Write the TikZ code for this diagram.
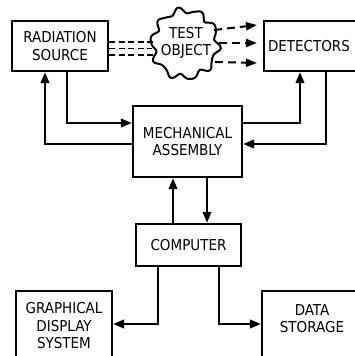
\documentclass[tikz,border=0pt]{standalone}
\usepackage{fontspec}
\setmainfont{DejaVu Sans Condensed}
\usetikzlibrary{arrows.meta}
\begin{document}
\begin{tikzpicture}[x=1pt,y=-1pt,
  lbl/.style={font=\fontsize{15}{17.5}\selectfont,align=center},
  box/.style={lbl,draw=black,line width=2.3pt,fill=white,inner sep=0pt},
  conn/.style={line width=2.3pt,-{Triangle[length=11pt,width=8.5pt]}},
  ray/.style={line width=1.8pt,dash pattern=on 6pt off 3.5pt},
  rayarrow/.style={line width=2pt,dash pattern=on 8pt off 5pt,-{Triangle[length=11pt,width=8pt]}}]
\useasboundingbox (0,0) rectangle (355,356);
\begin{scope}
\clip (0,0) rectangle (355,356);
\node[box,minimum width=96pt,minimum height=50pt] (src) at (60,46) {RADIATION\\SOURCE};
\node[box,minimum width=98pt,minimum height=50pt] (det) at (313,46) {DETECTORS\phantom{x}};
\node[box,minimum width=109pt,minimum height=71pt] (mech) at (187.5,141.5) {MECHANICAL\\ASSEMBLY};
\node[box,minimum width=105pt,minimum height=42pt] (comp) at (188.5,245) {COMPUTER};
\node[box,minimum width=96pt,minimum height=70pt] (gfx) at (64,326) {GRAPHICAL\\DISPLAY\\SYSTEM};
\node[box,minimum width=100pt,minimum height=70pt] (dat) at (312,326) {DATA\\STORAGE\\[-3pt]};
\end{scope}
% cloud
\draw[line width=2pt,fill=white] plot[domain=0:360,samples=160,smooth cycle,variable=\t]
  ({185+(32.5+2.8*sin(10*\t+20)+0.8*sin(17*\t))*cos(\t)},{44+(33.5+2.8*sin(10*\t+20)+0.8*sin(17*\t))*sin(\t)});
\node[lbl,inner sep=0pt] (test) at (186,43) {TEST\\OBJECT};
% rays
\coordinate (r1) at (153,42);
\coordinate (r2) at (152,48.5);
\coordinate (r3) at (153,55);
\draw[ray] (src.east |- r1) -- (r1);
\draw[ray] (src.east |- r2) -- (r2);
\draw[ray] (src.east |- r3) -- (r3);
\coordinate (a1s) at (214,30);
\coordinate (a1e) at (257,25);
\coordinate (a2s) at (219,43);
\coordinate (a2e) at (257,43);
\coordinate (a3s) at (215,62);
\coordinate (a3e) at (257,63);
\draw[rayarrow] (a1s) -- (a1e);
\draw[rayarrow] (a2s) -- (a2e);
\draw[rayarrow] (a3s) -- (a3e);
% connector columns / rows
\coordinate (rowA) at (0,123);
\coordinate (rowB) at (0,144);
\coordinate (cu) at (173,0);
\coordinate (cd) at (207,0);
\coordinate (cg) at (158,0);
\coordinate (cs) at (219,0);
\coordinate (rowC) at (0,324);
% connectors
\draw[conn] ([xshift=7pt]src.south) |- (mech.west |- rowA);
\draw[conn] (mech.west |- rowB) -| ([xshift=-15pt]src.south);
\draw[conn] (mech.east |- rowA) -| ([xshift=-13pt]det.south);
\draw[conn] ([xshift=13pt]det.south) |- (mech.east |- rowB);
\draw[conn] (comp.north -| cu) -- (mech.south -| cu);
\draw[conn] (mech.south -| cd) -- (comp.north -| cd);
\draw[conn] (comp.south -| cg) |- (gfx.east |- rowC);
\draw[conn] (comp.south -| cs) |- (dat.west |- rowC);
\end{tikzpicture}
\end{document}
